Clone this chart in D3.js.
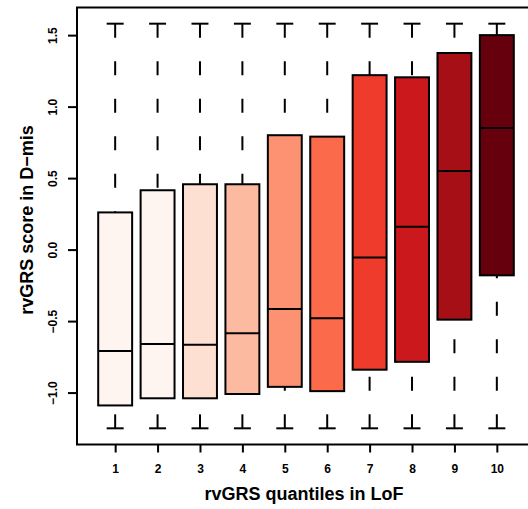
<!DOCTYPE html>
<html>
<head>
<meta charset="utf-8">
<script src="https://cdn.jsdelivr.net/npm/d3@7"></script>
<style>
  body { margin: 0; background: #fff; }
  svg { display: block; font-family: "Liberation Sans", Arial, sans-serif; }
  .tick text { font-weight: bold; font-size: 12px; }
  .axis-title { font-weight: bold; font-size: 18px; }
</style>
</head>
<body>
<div id="chart"></div>
<script>
// chart data
const quantiles = [1, 2, 3, 4, 5, 6, 7, 8, 9, 10];
const whiskerLow = [-1.25, -1.25, -1.25, -1.25, -1.25, -1.25, -1.25, -1.25, -1.25, -1.25];
const lowerHinge = [-1.09, -1.04, -1.04, -1.01, -0.96, -0.99, -0.84, -0.785, -0.49, -0.18];
const medians = [-0.71, -0.66, -0.665, -0.585, -0.415, -0.48, -0.055, 0.16, 0.55, 0.85];
const upperHinge = [0.26, 0.415, 0.457, 0.457, 0.80, 0.79, 1.22, 1.205, 1.375, 1.50];
const whiskerHigh = [1.58, 1.58, 1.58, 1.58, 1.58, 1.58, 1.58, 1.58, 1.58, 1.58];
const boxColors = ["#FFF5F0", "#FFF5F0", "#FEE0D2", "#FCBBA1", "#FC9272",
                   "#FB6A4A", "#EF3B2C", "#CB181D", "#A50F15", "#67000D"];
const yTicks = [-1.0, -0.5, 0.0, 0.5, 1.0, 1.5];
const yTitle = "rvGRS score in D\u2212mis";
const xTitle = "rvGRS quantiles in LoF";

(function () {
  const svg_width = 528, svg_height = 509;
  const plot = { left: 77, right: 535, top: 7.5, bottom: 444.5 };

  const data = quantiles.map((q, i) => ({
    q: q,
    lo: whiskerLow[i], q1: lowerHinge[i], med: medians[i],
    q3: upperHinge[i], hi: whiskerHigh[i], color: boxColors[i]
  }));

  // R style: 4% extension on both axes
  const xMin = 0.5, xMax = quantiles.length + 0.5;
  const xExt = (xMax - xMin) * 0.04;
  const x = d3.scaleLinear()
    .domain([xMin - xExt, xMax + xExt])
    .range([plot.left, plot.right]);

  const yLo = d3.min(whiskerLow), yHi = d3.max(whiskerHigh);
  const yExt = (yHi - yLo) * 0.04;
  const y = d3.scaleLinear()
    .domain([yLo - yExt, yHi + yExt])
    .range([plot.bottom, plot.top]);

  const boxW = (x(2) - x(1)) * 0.8;
  const capW = boxW * 0.5;

  const svg = d3.select("#chart").append("svg")
    .attr("width", svg_width)
    .attr("height", svg_height);

  const g = svg.append("g");

  // whiskers (dashed, drawn from the whisker end toward the box)
  g.selectAll(".whisker-hi")
    .data(data)
    .enter().append("line")
    .attr("x1", d => x(d.q)).attr("x2", d => x(d.q))
    .attr("y1", d => y(d.hi)).attr("y2", d => y(d.q3))
    .attr("stroke", "#000").attr("stroke-width", 2)
    .attr("stroke-dasharray", "14,23.5");

  g.selectAll(".whisker-lo")
    .data(data)
    .enter().append("line")
    .attr("x1", d => x(d.q)).attr("x2", d => x(d.q))
    .attr("y1", d => y(d.lo)).attr("y2", d => y(d.q1))
    .attr("stroke", "#000").attr("stroke-width", 2)
    .attr("stroke-dasharray", "14,23.5");

  // staples
  ["hi", "lo"].forEach(function (k) {
    g.selectAll(".cap-" + k)
      .data(data)
      .enter().append("line")
      .attr("x1", d => x(d.q) - capW / 2).attr("x2", d => x(d.q) + capW / 2)
      .attr("y1", d => y(d[k])).attr("y2", d => y(d[k]))
      .attr("stroke", "#000").attr("stroke-width", 2);
  });

  // boxes
  g.selectAll(".box")
    .data(data)
    .enter().append("rect")
    .attr("x", d => x(d.q) - boxW / 2)
    .attr("y", d => y(d.q3))
    .attr("width", boxW)
    .attr("height", d => y(d.q1) - y(d.q3))
    .attr("fill", d => d.color)
    .attr("stroke", "#000").attr("stroke-width", 2);

  // medians
  g.selectAll(".median")
    .data(data)
    .enter().append("line")
    .attr("x1", d => x(d.q) - boxW / 2).attr("x2", d => x(d.q) + boxW / 2)
    .attr("y1", d => y(d.med)).attr("y2", d => y(d.med))
    .attr("stroke", "#000").attr("stroke-width", 2);

  // frame
  svg.append("rect")
    .attr("x", plot.left).attr("y", plot.top)
    .attr("width", plot.right - plot.left)
    .attr("height", plot.bottom - plot.top)
    .attr("fill", "none")
    .attr("stroke", "#000").attr("stroke-width", 2);

  // y axis
  const yAxis = svg.append("g")
    .attr("transform", "translate(" + plot.left + ",0)")
    .call(d3.axisLeft(y).tickValues(yTicks).tickSize(9)
      .tickFormat(d => d3.format(".1f")(d).replace("-", "\u2212")));
  yAxis.select(".domain").remove();
  yAxis.selectAll(".tick line").attr("stroke-width", 2);
  yAxis.selectAll(".tick text")
    .attr("x", null).attr("dy", null)
    .attr("text-anchor", "middle")
    .attr("transform", "translate(-20,0) rotate(-90)");

  // x axis
  const xAxis = svg.append("g")
    .attr("transform", "translate(0," + plot.bottom + ")")
    .call(d3.axisBottom(x).tickValues(quantiles).tickSize(8).tickFormat(d3.format("d")));
  xAxis.select(".domain").remove();
  xAxis.selectAll(".tick line").attr("stroke-width", 2);
  xAxis.selectAll(".tick text")
    .attr("y", 28).attr("dy", null);

  // titles
  svg.append("text")
    .attr("class", "axis-title")
    .attr("text-anchor", "middle")
    .attr("transform", "translate(33,220) rotate(-90)")
    .text(yTitle);

  svg.append("text")
    .attr("class", "axis-title")
    .attr("text-anchor", "middle")
    .attr("x", 304).attr("y", 500)
    .text(xTitle);
})();
</script>
</body>
</html>
